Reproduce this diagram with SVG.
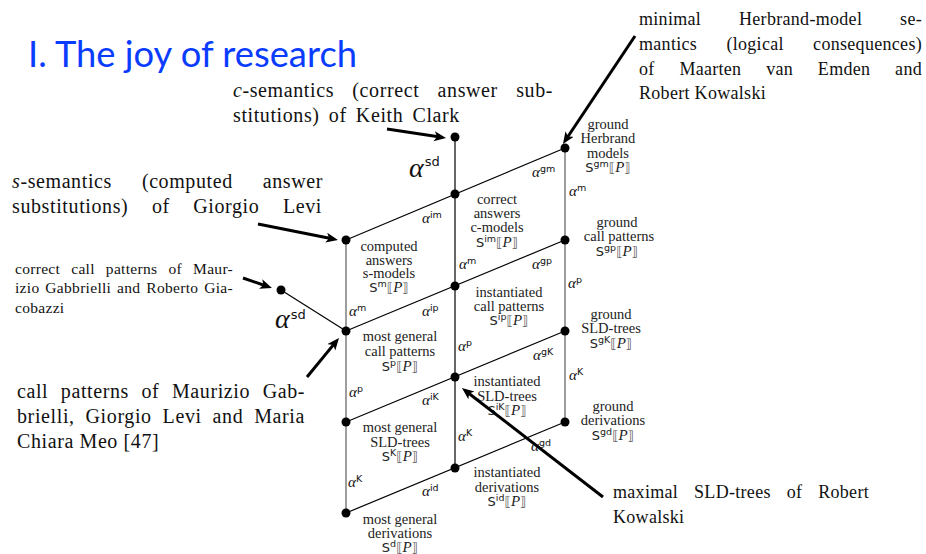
<svg xmlns="http://www.w3.org/2000/svg" width="926" height="554" viewBox="0 0 926 554">
<style>
.title{font-family:Lato,"Open Sans",sans-serif;font-size:37px;fill:#0a3cff}
.big{font-family:"Liberation Serif",serif;font-size:20px;letter-spacing:0.6px;fill:#111}
.mid{font-family:"Liberation Serif",serif;font-size:18px;letter-spacing:0.3px;fill:#111}
.small{font-family:"Liberation Serif",serif;font-size:15.5px;letter-spacing:0.3px;fill:#111}
.it{font-style:italic}
.cl{font-family:"Liberation Serif",serif;font-size:14.5px;fill:#222;text-anchor:middle}
.S{font-family:"DejaVu Sans",sans-serif;font-size:13px;font-style:normal}
.sup{font-family:"DejaVu Sans",sans-serif;font-size:9.5px;font-style:normal}
.br{font-family:"DejaVu Sans",sans-serif;font-size:13px;fill:#555;font-style:normal}
.P{font-family:"Liberation Serif",serif;font-style:italic;font-size:15px}
.a{font-family:"Liberation Serif",serif;font-style:italic;font-size:15px;fill:#111}
.A{font-family:"Liberation Serif",serif;font-style:italic;font-size:28px;fill:#111}
.supA{font-family:"DejaVu Sans",sans-serif;font-size:13px;font-style:normal}
.g{stroke:#6a6a6a;stroke-width:1.3;fill:none}
.k{stroke:#000;stroke-width:1.2;fill:none}
.arr{stroke:#000;stroke-width:3;fill:none;marker-end:url(#ah)}
.dot{fill:#000}
</style>
<defs>
<marker id="ah" markerUnits="userSpaceOnUse" markerWidth="14" markerHeight="12" refX="6" refY="5" orient="auto" viewBox="0 0 14 12">
<path d="M0,0 L12,5 L0,10 L3,5 z" fill="#000"/>
</marker>
<clipPath id="clipR"><rect x="0" y="0" width="655" height="554"/></clipPath>
</defs>

<text class="title" x="28" y="67" textLength="329" lengthAdjust="spacingAndGlyphs">I. The joy of research</text>

<g id="connectors">
<line class="g" x1="346" y1="240" x2="346" y2="513"/>
<line class="k" x1="455" y1="137" x2="455" y2="468"/>
<line class="g" x1="565" y1="148" x2="565" y2="422"/>
<line class="k" x1="346" y1="240" x2="565" y2="148"/>
<line class="k" x1="346" y1="331" x2="565" y2="240"/>
<line class="k" x1="346" y1="422" x2="565" y2="331"/>
<line class="k" x1="346" y1="513" x2="565" y2="422"/>
<line class="k" x1="281" y1="290" x2="346" y2="331"/>
</g>

<g id="nodes">
<circle id="n-sd-c" class="dot" cx="455" cy="137" r="4.5"/>
<circle id="n-gm" class="dot" cx="565" cy="148" r="4.5"/>
<circle id="n-im" class="dot" cx="455" cy="194" r="4.5"/>
<circle id="n-m" class="dot" cx="346" cy="240" r="4.5"/>
<circle id="n-gp" class="dot" cx="565" cy="240" r="4.5"/>
<circle id="n-ip" class="dot" cx="455" cy="286" r="4.5"/>
<circle id="n-sd-p" class="dot" cx="281" cy="290" r="4.5"/>
<circle id="n-p" class="dot" cx="346" cy="331" r="4.5"/>
<circle id="n-gK" class="dot" cx="565" cy="331" r="4.5"/>
<circle id="n-iK" class="dot" cx="455" cy="377" r="4.5"/>
<circle id="n-K" class="dot" cx="346" cy="422" r="4.5"/>
<circle id="n-gd" class="dot" cx="565" cy="422" r="4.5"/>
<circle id="n-id" class="dot" cx="455" cy="468" r="4.5"/>
<circle id="n-d" class="dot" cx="346" cy="513" r="4.5"/>
</g>

<g id="label-gm">
<text class="cl" x="608" y="129">ground<tspan x="608" dy="14.3">Herbrand</tspan><tspan x="608" dy="14.3">models</tspan><tspan x="608" dy="14.4"><tspan class="S">S</tspan><tspan class="sup" dy="-5">gm</tspan><tspan class="br" dy="5">⟦</tspan><tspan class="P">P</tspan><tspan class="br">⟧</tspan></tspan></text>
</g>
<g id="label-im">
<text class="cl" x="497" y="203.5">correct<tspan x="497" dy="14.3">answers</tspan><tspan x="497" dy="14.3">c-models</tspan><tspan x="497" dy="14.4"><tspan class="S">S</tspan><tspan class="sup" dy="-5">im</tspan><tspan class="br" dy="5">⟦</tspan><tspan class="P">P</tspan><tspan class="br">⟧</tspan></tspan></text>
</g>
<g id="label-m">
<text class="cl" x="389" y="250.5">computed<tspan x="389" dy="14">answers</tspan><tspan x="389" dy="13.5">s-models</tspan><tspan x="389" dy="14"><tspan class="S">S</tspan><tspan class="sup" dy="-5">m</tspan><tspan class="br" dy="5">⟦</tspan><tspan class="P">P</tspan><tspan class="br">⟧</tspan></tspan></text>
</g>
<g id="label-gp" clip-path="url(#clipR)">
<text class="cl" x="617" y="227">ground<tspan x="619" dy="14.3">call patterns</tspan><tspan x="617" dy="14.7"><tspan class="S">S</tspan><tspan class="sup" dy="-5">gp</tspan><tspan class="br" dy="5">⟦</tspan><tspan class="P">P</tspan><tspan class="br">⟧</tspan></tspan></text>
</g>
<g id="label-ip">
<text class="cl" x="509" y="297">instantiated<tspan x="509" dy="14">call patterns</tspan><tspan x="509" dy="14"><tspan class="S">S</tspan><tspan class="sup" dy="-5">ip</tspan><tspan class="br" dy="5">⟦</tspan><tspan class="P">P</tspan><tspan class="br">⟧</tspan></tspan></text>
</g>
<g id="label-gK">
<text class="cl" x="611" y="319">ground<tspan x="611" dy="14.3">SLD-trees</tspan><tspan x="611" dy="14.7"><tspan class="S">S</tspan><tspan class="sup" dy="-5">gK</tspan><tspan class="br" dy="5">⟦</tspan><tspan class="P">P</tspan><tspan class="br">⟧</tspan></tspan></text>
</g>
<g id="label-p">
<text class="cl" x="400" y="341">most general<tspan x="400" dy="14.5">call patterns</tspan><tspan x="400" dy="15"><tspan class="S">S</tspan><tspan class="sup" dy="-5">p</tspan><tspan class="br" dy="5">⟦</tspan><tspan class="P">P</tspan><tspan class="br">⟧</tspan></tspan></text>
</g>
<g id="label-iK">
<text class="cl" x="507" y="386">instantiated<tspan x="507" dy="14.5">SLD-trees</tspan><tspan x="507" dy="14.5"><tspan class="S">S</tspan><tspan class="sup" dy="-5">iK</tspan><tspan class="br" dy="5">⟦</tspan><tspan class="P">P</tspan><tspan class="br">⟧</tspan></tspan></text>
</g>
<g id="label-gd">
<text class="cl" x="613" y="411">ground<tspan x="613" dy="14.3">derivations</tspan><tspan x="613" dy="14.7"><tspan class="S">S</tspan><tspan class="sup" dy="-5">gd</tspan><tspan class="br" dy="5">⟦</tspan><tspan class="P">P</tspan><tspan class="br">⟧</tspan></tspan></text>
</g>
<g id="label-K">
<text class="cl" x="400" y="432">most general<tspan x="400" dy="14.5">SLD-trees</tspan><tspan x="400" dy="14.5"><tspan class="S">S</tspan><tspan class="sup" dy="-5">K</tspan><tspan class="br" dy="5">⟦</tspan><tspan class="P">P</tspan><tspan class="br">⟧</tspan></tspan></text>
</g>
<g id="label-id">
<text class="cl" x="507" y="477">instantiated<tspan x="507" dy="14.5">derivations</tspan><tspan x="507" dy="14.5"><tspan class="S">S</tspan><tspan class="sup" dy="-5">id</tspan><tspan class="br" dy="5">⟦</tspan><tspan class="P">P</tspan><tspan class="br">⟧</tspan></tspan></text>
</g>
<g id="label-d">
<text class="cl" x="400" y="524">most general<tspan x="400" dy="13.5">derivations</tspan><tspan x="400" dy="14"><tspan class="S">S</tspan><tspan class="sup" dy="-5">d</tspan><tspan class="br" dy="5">⟦</tspan><tspan class="P">P</tspan><tspan class="br">⟧</tspan></tspan></text>
</g>

<g id="edge-labels">
<text class="A" x="409" y="177">α<tspan class="supA" dx="1" dy="-11">sd</tspan></text>
<text class="A" x="275" y="328">α<tspan class="supA" dx="1" dy="-9">sd</tspan></text>
<text class="a" x="532" y="177">α<tspan class="sup" dy="-5">gm</tspan></text>
<text class="a" x="569" y="196">α<tspan class="sup" dy="-5">m</tspan></text>
<text class="a" x="422" y="223">α<tspan class="sup" dy="-5">im</tspan></text>
<text class="a" x="459" y="269">α<tspan class="sup" dy="-5">m</tspan></text>
<text class="a" x="532" y="269">α<tspan class="sup" dy="-5">gp</tspan></text>
<text class="a" x="568" y="288">α<tspan class="sup" dy="-5">p</tspan></text>
<text class="a" x="349" y="316">α<tspan class="sup" dy="-5">m</tspan></text>
<text class="a" x="422" y="316">α<tspan class="sup" dy="-5">ip</tspan></text>
<text class="a" x="458" y="351">α<tspan class="sup" dy="-5">p</tspan></text>
<text class="a" x="533" y="360">α<tspan class="sup" dy="-5">gK</tspan></text>
<text class="a" x="569" y="380">α<tspan class="sup" dy="-5">K</tspan></text>
<text class="a" x="349" y="397">α<tspan class="sup" dy="-5">p</tspan></text>
<text class="a" x="422" y="405">α<tspan class="sup" dy="-5">iK</tspan></text>
<text class="a" x="458" y="441">α<tspan class="sup" dy="-5">K</tspan></text>
<text class="a" x="531" y="451">α<tspan class="sup" dy="-5">gd</tspan></text>
<text class="a" x="348" y="487">α<tspan class="sup" dy="-5">K</tspan></text>
<text class="a" x="422" y="496">α<tspan class="sup" dy="-5">id</tspan></text>
</g>

<g id="note-c-semantics">
<text class="big" x="233" y="97" style="word-spacing:12.7px" textLength="320"><tspan class="it">c</tspan>-semantics (correct answer sub-</text>
<text class="big" x="233" y="122" style="word-spacing:3.6px">stitutions) of Keith Clark</text>
</g>
<g id="note-s-semantics">
<text class="big" x="12" y="188" style="word-spacing:24.4px" textLength="311"><tspan class="it">s</tspan>-semantics (computed answer</text>
<text class="big" x="12" y="213" style="word-spacing:17.9px" textLength="310">substitutions) of Giorgio Levi</text>
</g>
<g id="note-minimal-herbrand">
<text class="mid" x="639" y="25" style="word-spacing:33.1px" textLength="283">minimal Herbrand-model se-</text>
<text class="mid" x="639" y="50" style="word-spacing:24.5px" textLength="283">mantics (logical consequences)</text>
<text class="mid" x="639" y="74.5" style="word-spacing:20px" textLength="283">of Maarten van Emden and</text>
<text class="mid" x="639" y="99">Robert Kowalski</text>
</g>
<g id="note-correct-call-patterns">
<text class="small" x="15" y="273.5" style="word-spacing:6.9px" textLength="218">correct call patterns of Maur-</text>
<text class="small" x="15" y="293" style="word-spacing:1.7px" textLength="218">izio Gabbrielli and Roberto Gia-</text>
<text class="small" x="15" y="312.5">cobazzi</text>
</g>
<g id="note-call-patterns">
<text class="big" x="17" y="398" style="word-spacing:7px" textLength="288">call patterns of Maurizio Gab-</text>
<text class="big" x="17" y="423" style="word-spacing:5.3px" textLength="288">brielli, Giorgio Levi and Maria</text>
<text class="big" x="17" y="447.5">Chiara Meo [47]</text>
</g>
<g id="note-maximal-sld">
<text class="mid" x="613" y="498" style="word-spacing:11.1px" textLength="256">maximal SLD-trees of Robert</text>
<text class="mid" x="613" y="522.5">Kowalski</text>
</g>

<g id="arrows">
<line class="arr" x1="387" y1="129" x2="440.1" y2="137.1"/>
<line class="arr" x1="258" y1="224" x2="332.1" y2="238.8"/>
<line class="arr" x1="243" y1="278" x2="266.3" y2="286"/>
<line class="arr" x1="307" y1="377" x2="335.2" y2="342.6"/>
<line class="arr" x1="635" y1="36" x2="566.3" y2="139"/>
<line class="arr" x1="603" y1="497" x2="466.7" y2="391.7"/>
</g>
</svg>
